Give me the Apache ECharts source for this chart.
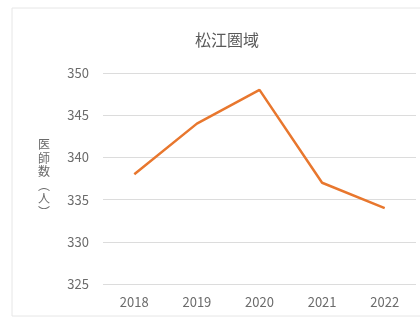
<!DOCTYPE html>
<html>
<head>
<meta charset="utf-8">
<script src="https://cdn.jsdelivr.net/npm/echarts@6/dist/echarts.min.js"></script>
<style>
  html, body { margin: 0; padding: 0; background: #fff; }
  #chart { width: 420px; height: 320px; }
</style>
</head>
<body>
<div id="chart"></div>
<script>
// Physician counts in the Matsue area, by year
const years = ['2018', '2019', '2020', '2021', '2022'];
const doctors = [338, 344, 348, 337, 334];
const yTicks = { min: 325, max: 350, step: 5 };

const font = '"Noto Sans CJK JP", "Noto Sans", sans-serif';
const textGray = '#6b6b6b';

const chart = echarts.init(document.getElementById('chart'), null, { renderer: 'canvas' });
chart.setOption({
  animation: false,
  backgroundColor: '#ffffff',
  graphic: [{
    type: 'rect',
    shape: { x: 12, y: 8, width: 420, height: 308 },
    style: { fill: 'none', stroke: '#e6e6e6', lineWidth: 1 },
    silent: true
  }],
  title: {
    text: '松江圏域',
    left: 222,
    top: 27,
    textAlign: 'center',
    textStyle: { fontFamily: font, fontSize: 16, fontWeight: 'normal', color: '#595959' }
  },
  grid: { left: 103, right: 4, top: 73, bottom: 36 },
  xAxis: {
    type: 'category',
    data: years,
    boundaryGap: true,
    axisLine: { show: false },
    axisTick: { show: false },
    axisLabel: { fontFamily: font, fontSize: 13, color: textGray, margin: 12 }
  },
  yAxis: {
    type: 'value',
    min: yTicks.min,
    max: yTicks.max,
    interval: yTicks.step,
    name: '医\n師\n数\n︵\n人\n︶',
    nameLocation: 'middle',
    nameRotate: 0,
    nameGap: 59,
    nameTextStyle: { fontFamily: font, fontSize: 12, color: textGray, lineHeight: 13.5, align: 'center', verticalAlign: 'middle' },
    axisLine: { show: false },
    axisTick: { show: false },
    axisLabel: { fontFamily: font, fontSize: 13, color: textGray, margin: 14 },
    splitLine: { lineStyle: { color: '#dcdcdc', width: 1 } }
  },
  series: [{
    type: 'line',
    data: doctors,
    showSymbol: false,
    lineStyle: { color: '#E8772E', width: 2.5 },
    itemStyle: { color: '#E8772E' }
  }]
});
</script>
</body>
</html>
